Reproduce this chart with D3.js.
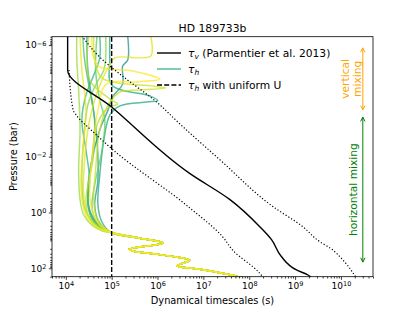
<!DOCTYPE html>
<html>
<head>
<meta charset="utf-8">
<script src="https://cdn.jsdelivr.net/npm/d3@7"></script>
<style>
  body { margin: 0; background: #fff; }
  svg { display: block; font-family: "DejaVu Sans", sans-serif; }
</style>
</head>
<body>
<div id="chart"></div>
<script>
// values, as [log10 timescale (s), log10 pressure (bar)]
const tauV = [[4.04,-6.4],[4.04,-5.11],[5.00,-3.78],[6.70,-1.40],[7.58,-0.46],[8.23,0.51],[8.49,0.98],[8.70,1.58],[9.03,2.06],[9.28,2.24],[9.36,2.33]];
const tauVHigh = [[4.35,-6.33],[4.74,-5.57],[5.18,-4.96],[5.98,-3.96],[6.49,-3.17],[7.36,-1.89],[8.52,-0.21],[9.17,0.51],[9.54,1.05],[9.76,1.27],[10.08,1.77],[10.32,2.31]];
const tauVLow = [[4.07,-5.11],[4.16,-3.67],[4.23,-3.49],[4.63,-2.84],[5.02,-2.26],[6.70,-0.17],[7.42,0.87],[7.64,1.35],[8.23,2.18],[8.30,2.33]];

// deep part shared by all tau_h profiles
const tauHDeep = [[4.99,0.72],[5.61,0.92],[6.12,1.09],[5.38,1.32],[5.46,1.38],[6.05,1.51],[6.70,1.71],[6.42,1.91],[6.92,2.03],[7.72,2.28],[7.90,2.37]];
// upper parts of the tau_h profiles
const tauHUpper = [
  [[4.24,-6.33],[4.24,-5.47],[4.28,-4.39],[4.31,-2.96],[4.28,-1.53],[4.31,-0.46],[4.39,0.09],[4.57,0.45],[4.81,0.67]],
  [[4.31,-6.33],[4.35,-5.11],[4.44,-3.67],[4.37,-2.24],[4.33,-0.99],[4.37,-0.28],[4.48,0.24],[4.70,0.56]],
  [[4.37,-6.33],[4.41,-5.47],[4.52,-4.39],[4.63,-3.32],[4.57,-1.89],[4.48,-0.63],[4.52,-0.02],[4.68,0.45]],
  [[4.46,-6.33],[4.48,-5.11],[4.57,-4.03],[4.68,-2.60],[4.70,-1.16],[4.63,-0.28],[4.70,0.27],[4.85,0.60]],
  [[4.57,-6.33],[4.59,-5.65],[4.74,-5.22],[5.46,-5.07],[6.05,-4.78],[5.55,-4.68],[4.89,-4.61],[4.70,-3.67],[4.59,-2.24],[4.52,-0.81],[4.57,-0.09],[4.74,0.45]],
  [[4.61,-6.33],[4.63,-5.47],[4.79,-4.82],[5.90,-4.53],[6.18,-4.46],[5.61,-4.39],[5.18,-4.32],[4.92,-3.85],[4.74,-2.96],[4.65,-1.53],[4.61,-0.46],[4.68,0.20]],
  [[4.96,-6.33],[4.96,-5.47],[5.00,-4.57],[5.83,-4.18],[6.01,-4.01],[5.77,-3.96],[5.18,-3.82],[4.96,-3.49],[4.83,-2.60],[4.74,-1.34],[4.70,-0.28],[4.79,0.35]],
  [[5.35,-6.33],[5.35,-5.47],[5.24,-5.25],[5.24,-4.61],[5.02,-4.14],[4.92,-3.67],[4.74,-2.96],[4.57,-1.89],[4.48,-0.81],[4.52,-0.09],[4.70,0.42]],
  [[5.85,-6.33],[5.85,-5.61],[5.07,-5.54],[4.92,-5.18],[4.70,-4.39],[4.52,-3.32],[4.41,-1.89],[4.39,-0.63],[4.46,0.02],[4.65,0.49]],
  [[4.68,-6.33],[4.65,-5.11],[4.74,-4.03],[4.85,-3.32],[4.79,-2.24],[4.65,-1.16],[4.57,-0.28],[4.63,0.20],[4.83,0.60]],
  [[4.87,-6.33],[4.87,-5.54],[4.83,-5.11],[4.65,-4.57],[4.48,-3.85],[4.39,-2.60],[4.35,-1.16],[4.41,-0.17],[4.59,0.35]],
  [[4.74,-6.33],[4.74,-5.54],[4.61,-4.93],[4.44,-4.21],[4.35,-3.32],[4.44,-2.24],[4.52,-1.16],[4.48,-0.28],[4.59,0.27],[4.83,0.60]],
  [[4.50,-6.33],[4.52,-4.75],[5.00,-4.03],[5.13,-3.89],[4.92,-3.75],[4.68,-3.14],[4.59,-1.89],[4.44,-0.46],[4.50,0.13],[4.72,0.52]]
];
const tauHShade = [0.85, 0.97, 0.7, 0.55, 1.0, 0.92, 0.6, 0.5, 0.95, 0.75, 0.82, 0.65, 0.88];
const uniformU = 1e5;

const xTickExp = [4, 5, 6, 7, 8, 9, 10];
const yTickExp = [-6, -4, -2, 0, 2];
const legendLabels = [["τ", "v", " (Parmentier et al. 2013)"], ["τ", "h", ""], ["τ", "h", " with uniform U"]];
const verticalMixing = [1.26e-6, 2.1e-4];
const horizontalMixing = [3.8e-4, 60];
const mixingT = 3e10;

const W = 415, H = 311;
const m = {l: 52, t: 36.7, r: 373, b: 276.7};

const svg = d3.select("#chart").append("svg").attr("width", W).attr("height", H);

const x = d3.scaleLog().domain([5e3, 5e10]).range([m.l, m.r]);
const y = d3.scaleLog().domain([5e-7, 2e2]).range([m.t, m.b]);

svg.append("clipPath").attr("id", "plot")
  .append("rect").attr("x", m.l).attr("y", m.t).attr("width", m.r - m.l).attr("height", m.b - m.t);

const line = d3.line().x(d => x(10 ** d[0])).y(d => y(10 ** d[1]));
const plot = svg.append("g").attr("clip-path", "url(#plot)");

// tau_h profiles, greener ones underneath
d3.range(tauHUpper.length)
  .sort((a, b) => tauHShade[a] - tauHShade[b])
  .forEach(i => {
    plot.append("path")
      .attr("d", line.curve(d3.curveCatmullRom.alpha(0.5))(tauHUpper[i].concat(tauHDeep)))
      .attr("fill", "none")
      .attr("stroke", d3.interpolateViridis(tauHShade[i]))
      .attr("stroke-opacity", 0.75)
      .attr("stroke-width", 1.5)
      .attr("stroke-linejoin", "round");
  });

// uniform U
plot.append("line")
  .attr("x1", x(uniformU)).attr("x2", x(uniformU))
  .attr("y1", m.t).attr("y2", m.b)
  .attr("stroke", "#000").attr("stroke-width", 1.4)
  .attr("stroke-dasharray", "5,2.2");

// tau_v and its range
plot.append("path")
  .attr("d", line.curve(d3.curveMonotoneY)(tauV))
  .attr("fill", "none").attr("stroke", "#000").attr("stroke-width", 1.4);
[tauVHigh, tauVLow].forEach(c => {
  plot.append("path")
    .attr("d", line.curve(d3.curveMonotoneY)(c))
    .attr("fill", "none").attr("stroke", "#000").attr("stroke-width", 1.2)
    .attr("stroke-dasharray", "1.2,2");
});

// axes
function expText(sel) {
  sel.each(function(d) {
    const e = Math.round(Math.log10(d));
    const t = d3.select(this).text("10");
    t.append("tspan").attr("dy", "-0.45em").attr("font-size", "6.5px")
      .text(e < 0 ? "\u2212" + (-e) : e);
  });
}
const isMajor = (v, exps) => {
  const l = Math.log10(v), r = Math.round(l);
  return Math.abs(l - r) < 1e-6 && exps.includes(r);
};
const xMinor = x.ticks().filter(v => !isMajor(v, xTickExp));
const yMinor = y.ticks().filter(v => !isMajor(v, yTickExp));

const gx = svg.append("g").attr("transform", `translate(0,${m.b})`);
gx.append("g").call(d3.axisBottom(x).tickValues(xMinor).tickSize(1.8).tickFormat(""));
const gxMaj = gx.append("g").attr("class", "major")
  .call(d3.axisBottom(x).tickValues(xTickExp.map(e => 10 ** e)).tickSize(3.2).tickPadding(3));
const gy = svg.append("g").attr("transform", `translate(${m.l},0)`);
gy.append("g").call(d3.axisLeft(y).tickValues(yMinor).tickSize(1.8).tickFormat(""));
const gyMaj = gy.append("g").attr("class", "major")
  .call(d3.axisLeft(y).tickValues(yTickExp.map(e => 10 ** e)).tickSize(3.2).tickPadding(2.5));

svg.selectAll(".domain").remove();
svg.selectAll(".tick line").attr("stroke", "#000").attr("stroke-width", 0.75);
svg.selectAll(".major .tick text").attr("font-size", "9px").attr("fill", "#000")
  .attr("font-family", "DejaVu Sans").call(expText);

svg.append("rect")
  .attr("x", m.l).attr("y", m.t).attr("width", m.r - m.l).attr("height", m.b - m.t)
  .attr("fill", "none").attr("stroke", "#000").attr("stroke-width", 0.8);

// titles
svg.append("text").attr("x", (m.l + m.r) / 2).attr("y", 32)
  .attr("text-anchor", "middle").attr("font-size", "10.8px").text("HD 189733b");
svg.append("text").attr("x", (m.l + m.r) / 2).attr("y", 304)
  .attr("text-anchor", "middle").attr("font-size", "9.8px").text("Dynamical timescales (s)");
svg.append("text").attr("transform", `translate(17,${(m.t + m.b) / 2}) rotate(-90)`)
  .attr("text-anchor", "middle").attr("font-size", "9.8px").text("Pressure (bar)");

// legend
const lg = svg.append("g").attr("transform", "translate(157,53)");
const legendStroke = [
  {c: "#000", dash: null},
  {c: d3.interpolateViridis(0.62), dash: null},
  {c: "#000", dash: "5,2.2"}
];
legendLabels.forEach((lab, i) => {
  const row = lg.append("g").attr("transform", `translate(0,${i * 16})`);
  row.append("line").attr("x1", 0).attr("x2", 24).attr("y1", 0).attr("y2", 0)
    .attr("stroke", legendStroke[i].c).attr("stroke-width", 1.4)
    .attr("stroke-opacity", i === 1 ? 0.85 : 1)
    .attr("stroke-dasharray", legendStroke[i].dash);
  const t = row.append("text").attr("x", 31).attr("y", 3.8).attr("font-size", "10.7px");
  t.append("tspan").attr("font-style", "italic").text(lab[0]);
  t.append("tspan").attr("font-style", "italic").attr("font-size", "7.5px").attr("dy", "2.2").text(lab[1]);
  t.append("tspan").attr("dy", "-2.2").text(lab[2]);
});

// mixing annotations
function mixArrow(range, color) {
  const ax = x(mixingT), y0 = y(range[0]), y1 = y(range[1]);
  const g = svg.append("g").attr("stroke", color).attr("fill", "none").attr("stroke-width", 1);
  g.append("line").attr("x1", ax).attr("x2", ax).attr("y1", y0).attr("y2", y1);
  g.append("path").attr("d", `M${ax - 2.2},${y0 + 4.3}L${ax},${y0}L${ax + 2.2},${y0 + 4.3}`);
  g.append("path").attr("d", `M${ax - 2.2},${y1 - 4.3}L${ax},${y1}L${ax + 2.2},${y1 - 4.3}`);
}
mixArrow(verticalMixing, "orange");
mixArrow(horizontalMixing, "green");

const vy = (y(verticalMixing[0]) + y(verticalMixing[1])) / 2;
const vt = svg.append("text").attr("transform", `translate(${x(mixingT) - 12},${vy}) rotate(-90)`)
  .attr("text-anchor", "middle").attr("font-size", "10.7px").attr("fill", "orange");
vt.append("tspan").attr("x", 0).attr("dy", "-2").text("vertical");
vt.append("tspan").attr("x", 0).attr("dy", "12").text("mixing");

const hy = (y(horizontalMixing[0]) + y(horizontalMixing[1])) / 2;
svg.append("text").attr("transform", `translate(${x(mixingT) - 5.5},${hy}) rotate(-90)`)
  .attr("text-anchor", "middle").attr("font-size", "10.7px").attr("fill", "green")
  .text("horizontal mixing");
</script>
</body>
</html>
